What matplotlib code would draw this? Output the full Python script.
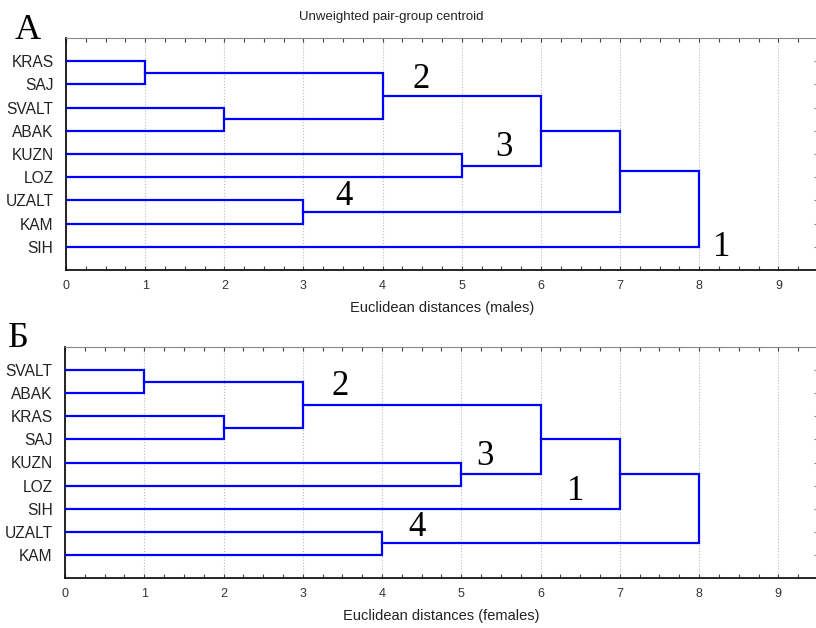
import numpy as np
import matplotlib
matplotlib.use('Agg')
import matplotlib.pyplot as plt
from matplotlib.ticker import MultipleLocator

# leaf order as drawn (top to bottom) and merges: (child a, child b, distance)
# children < 9 are leaves, 9+i is the node made by merge i
males_leaves = ['KRAS', 'SAJ', 'SVALT', 'ABAK', 'KUZN', 'LOZ', 'UZALT', 'KAM', 'SIH']
males_merges = [(0, 1, 1), (2, 3, 2), (6, 7, 3), (9, 10, 4), (4, 5, 5),
                (12, 13, 6), (14, 11, 7), (15, 8, 8)]
males_tags = ['2', '3', '4', '1']
males_tag_x = [4.48, 5.53, 3.51, 8.28]
males_tag_y = [1.77, 4.74, 6.85, 9.04]

females_leaves = ['SVALT', 'ABAK', 'KRAS', 'SAJ', 'KUZN', 'LOZ', 'SIH', 'UZALT', 'KAM']
females_merges = [(0, 1, 1), (2, 3, 2), (9, 10, 3), (7, 8, 4), (4, 5, 5),
                  (11, 13, 6), (14, 6, 7), (15, 12, 8)]
females_tags = ['2', '3', '4', '1']
females_tag_x = [3.47, 5.30, 4.44, 6.44]
females_tag_y = [1.73, 4.76, 7.80, 6.25]

xticks = [0, 1, 2, 3, 4, 5, 6, 7, 8, 9]

W, H = 816, 628
fig = plt.figure(figsize=(W/100, H/100), dpi=100)
serif = ['Liberation Serif', 'DejaVu Serif']
sans = ['Liberation Sans', 'DejaVu Sans']


def dendro(ax, leaves, merges, tags, tx, ty, xlabel):
    n = len(leaves)
    pos = {i: (0.0, i + 1.0) for i in range(n)}  # node -> (x, y)
    for k, (a, b, d) in enumerate(merges):
        xa, ya = pos[a]
        xb, yb = pos[b]
        ax.plot([xa, d, d, xb], [ya, ya, yb, yb], color='#0000ff', lw=1.6,
                solid_joinstyle='miter', zorder=3)
        pos[n + k] = (d, (ya + yb) / 2)
    ax.set_xlim(0, 9.5)
    ax.set_ylim(10, 0)
    ax.set_yticks(np.arange(1, n + 1))
    ax.set_yticklabels(leaves, family=sans, fontsize=11.2, color='#222222')
    ax.set_xticks(xticks)
    ax.set_xticklabels([str(t) for t in xticks], family=sans, fontsize=9, color='#333333')
    ax.xaxis.set_minor_locator(MultipleLocator(0.25))
    ax.tick_params(axis='x', which='both', direction='in', top=True, bottom=True,
                   length=3, width=0.8, color='#444444', pad=7)
    ax.tick_params(axis='y', which='both', left=False, right=True, direction='in',
                   length=3, color='#888888', pad=9)
    ax.grid(axis='x', which='major', ls=':', color='#bbbbbb', lw=0.8)
    ax.spines['top'].set_color('#888888')
    ax.spines['right'].set_visible(False)
    ax.spines['left'].set_linewidth(1.2)
    ax.spines['bottom'].set_linewidth(1.2)
    for s, x, y in zip(tags, tx, ty):
        ax.text(x, y, s, family=serif, fontsize=25, ha='center', va='center', zorder=4)
    ax.set_xlabel(xlabel, family=sans, fontsize=10.5, color='#222222', labelpad=7)


ax1 = fig.add_axes([66/W, 1 - 270/H, 752/W, 232/H])
dendro(ax1, males_leaves, males_merges, males_tags, males_tag_x, males_tag_y,
       'Euclidean distances (males)')
ax2 = fig.add_axes([65/W, 1 - 578/H, 753/W, 231/H])
dendro(ax2, females_leaves, females_merges, females_tags, females_tag_x, females_tag_y,
       'Euclidean distances (females)')

fig.text(391/W, 1 - 17/H, 'Unweighted pair-group centroid', family=sans, fontsize=9.5,
         color='#222222', ha='center', va='center')
fig.text(28/W, 1 - 39/H, 'А', family=serif, fontsize=26, ha='center', va='baseline')
fig.text(18/W, 1 - 347/H, 'Б', family=serif, fontsize=26, ha='center', va='baseline')

fig.savefig('out.png', dpi=100)
